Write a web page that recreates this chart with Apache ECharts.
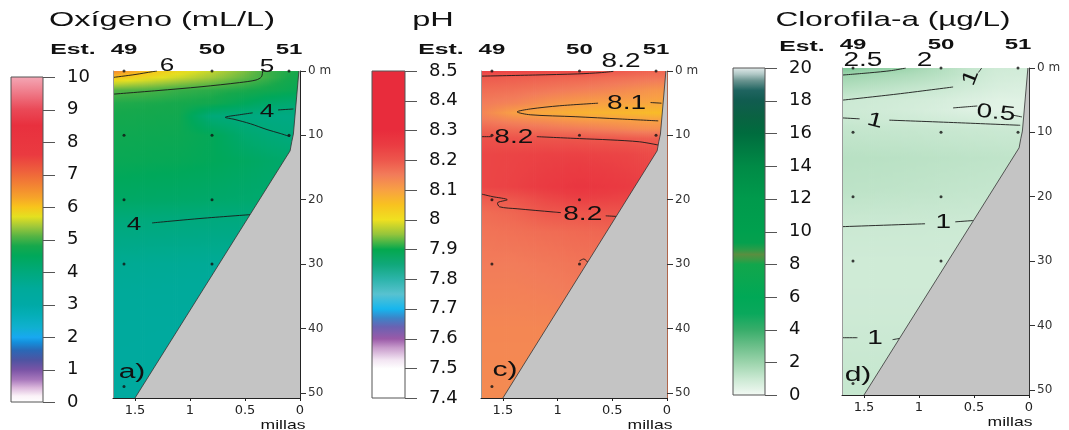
<!DOCTYPE html>
<html><head><meta charset="utf-8">
<script src="https://cdn.jsdelivr.net/npm/echarts@6/dist/echarts.min.js"></script>
<style>html,body{margin:0;padding:0;background:#fff}#c{width:1069px;height:430px}</style>
</head><body><div id="c"></div><script>
// ================= DATA =================
const DMAX = 50.8;
// field grid columns (miles offshore), shared by all panels
const colMiles = [1.7, 1.4, 1.1, 0.8, 0.5, 0.3, 0.1, 0];

// --- Oxígeno (mL/L)
const oxyDepths = [0, 1, 3, 5, 7, 10, 14, 20, 23, 30, 40, 50.8];
const oxyValues = [
  [6.6, 6.05, 5.8, 5.55, 5.25, 4.98, 4.85, 4.8],
  [6.0, 5.8, 5.6, 5.4, 5.15, 4.98, 4.8, 4.75],
  [5.1, 5.05, 4.95, 4.9, 4.82, 4.75, 4.65, 4.6],
  [4.85, 4.83, 4.8, 4.75, 4.5, 4.3, 4.2, 4.2],
  [4.78, 4.76, 4.73, 4.05, 3.95, 3.9, 3.88, 3.88],
  [4.7, 4.68, 4.66, 4.55, 4.2, 4.08, 4.0, 4.0],
  [4.62, 4.6, 4.58, 4.52, 4.42, 4.32, 4.25, 4.25],
  [4.35, 4.32, 4.3, 4.27, 4.22, 4.2, 4.2, 4.2],
  [4.04, 4.02, 4.0, 3.99, 3.97, 3.96, 3.96, 3.96],
  [3.62, 3.6, 3.58, 3.56, 3.55, 3.55, 3.55, 3.55],
  [3.38, 3.36, 3.35, 3.35, 3.35, 3.35, 3.35, 3.35],
  [3.3, 3.3, 3.3, 3.3, 3.3, 3.3, 3.3, 3.3]
];
const oxyTicks = [0, 1, 2, 3, 4, 5, 6, 7, 8, 9, 10];
const oxyContours = [
  [[1.7, 1.0], [1.5, 0.55], [1.34, 0.1], [1.3, 0]],
  [[1.7, 3.6], [1.3, 3.05], [0.9, 2.45], [0.55, 1.8], [0.4, 1.4], [0.35, 0.9], [0.34, 0]],
  [[0.2, 6.05], [0.06, 5.9]],
  [[0.43, 6.5], [0.55, 6.8], [0.68, 7.2], [0.6, 7.5], [0.45, 8.2], [0.3, 9.1], [0.18, 9.7], [0.09, 10.2]],
  [[1.345, 23.6], [0.9, 22.9], [0.44, 22.3]]
];
const oxyLabelText = ['6', '5', '4', '4'];
const oxyLabelPos = [[1.21, -0.8], [0.3, -0.6], [0.3, 6.4], [1.51, 23.9]];

// --- pH
const phDepths = [0, 1, 3, 5, 6.5, 7.5, 9, 10.5, 13, 18, 20, 22, 25, 30, 40, 50.8];
const phValues = [
  [8.24, 8.235, 8.23, 8.22, 8.2, 8.19, 8.18, 8.18],
  [8.195, 8.19, 8.185, 8.18, 8.17, 8.165, 8.16, 8.16],
  [8.17, 8.165, 8.155, 8.145, 8.135, 8.125, 8.115, 8.115],
  [8.15, 8.14, 8.12, 8.105, 8.098, 8.095, 8.09, 8.09],
  [8.14, 8.1, 8.085, 8.075, 8.07, 8.065, 8.06, 8.06],
  [8.15, 8.13, 8.12, 8.105, 8.1, 8.097, 8.094, 8.094],
  [8.18, 8.17, 8.16, 8.15, 8.14, 8.13, 8.125, 8.125],
  [8.21, 8.205, 8.203, 8.2, 8.197, 8.193, 8.19, 8.19],
  [8.23, 8.235, 8.24, 8.24, 8.235, 8.23, 8.22, 8.22],
  [8.23, 8.24, 8.255, 8.27, 8.26, 8.25, 8.24, 8.24],
  [8.19, 8.2, 8.225, 8.24, 8.235, 8.23, 8.22, 8.22],
  [8.17, 8.18, 8.198, 8.203, 8.205, 8.205, 8.2, 8.2],
  [8.16, 8.165, 8.17, 8.175, 8.18, 8.18, 8.18, 8.18],
  [8.15, 8.15, 8.155, 8.16, 8.16, 8.16, 8.16, 8.16],
  [8.135, 8.135, 8.135, 8.14, 8.14, 8.14, 8.14, 8.14],
  [8.13, 8.13, 8.13, 8.13, 8.13, 8.13, 8.13, 8.13]
];
const phTicks = [7.4, 7.5, 7.6, 7.7, 7.8, 7.9, 8.0, 8.1, 8.2, 8.3, 8.4, 8.5];
const phContours = [
  [[1.7, 0.8], [1.2, 0.62], [0.82, 0.45], [0.6, 0.25], [0.49, 0.05]],
  [[0.63, 5.0], [0.98, 5.4], [1.25, 5.9], [1.37, 6.35], [1.25, 6.8], [0.84, 7.1], [0.43, 7.45], [0.08, 7.75]],
  [[0.15, 4.9], [0.05, 5.0]],
  [[1.7, 10.2], [1.6, 10.2]],
  [[1.19, 10.2], [0.8, 10.5], [0.52, 10.7], [0.25, 11.0], [0.08, 11.5]],
  [[1.7, 19.1], [1.6, 19.5], [1.46, 20.0], [1.55, 20.5], [1.53, 21.1], [1.37, 21.4], [1.04, 21.9], [0.97, 22.0]],
  [[0.56, 22.5], [0.45, 22.6]],
  [[0.8, 29.5], [0.76, 29.2], [0.72, 29.8]]
];
const phLabelText = ['8.2', '8.1', '8.2', '8.2'];
const phLabelPos = [[0.42, -1.5], [0.37, 5.1], [1.4, 10.4], [0.77, 22.3]];

// --- Clorofila-a (µg/L)
const chlDepths = [0, 1, 3, 5, 6.5, 8, 9.5, 14, 19, 24, 30, 37, 42, 47, 50.8];
const chlValues = [
  [2.7, 2.3, 1.95, 1.5, 1.1, 0.9, 0.85, 0.85],
  [2.0, 1.8, 1.65, 1.4, 1.05, 0.85, 0.8, 0.8],
  [1.5, 1.35, 1.2, 1.05, 0.85, 0.7, 0.65, 0.65],
  [1.0, 0.92, 0.85, 0.75, 0.6, 0.5, 0.5, 0.5],
  [0.95, 0.88, 0.8, 0.68, 0.52, 0.45, 0.45, 0.45],
  [1.03, 0.97, 0.92, 0.85, 0.78, 0.72, 0.7, 0.7],
  [1.15, 1.12, 1.1, 1.06, 1.03, 1.01, 1.0, 1.0],
  [1.4, 1.38, 1.35, 1.32, 1.28, 1.25, 1.22, 1.22],
  [1.3, 1.27, 1.24, 1.2, 1.16, 1.13, 1.1, 1.1],
  [1.02, 1.01, 1.0, 0.99, 0.98, 0.97, 0.97, 0.97],
  [0.9, 0.9, 0.9, 0.9, 0.9, 0.9, 0.9, 0.9],
  [0.92, 0.92, 0.92, 0.92, 0.92, 0.92, 0.92, 0.92],
  [1.0, 1.0, 0.995, 0.99, 0.99, 0.99, 0.99, 0.99],
  [1.08, 1.07, 1.06, 1.05, 1.05, 1.05, 1.05, 1.05],
  [1.12, 1.1, 1.08, 1.08, 1.08, 1.08, 1.08, 1.08]
];
const chlTicks = [0, 2, 4, 6, 8, 10, 12, 14, 16, 18, 20];
const chlContours = [
  [[1.7, 1.1], [1.45, 0.75], [1.25, 0.4], [1.12, 0]],
  [[1.7, 5.0], [1.2, 4.05], [0.69, 2.95]],
  [[0.46, 0.7], [0.43, 0]],
  [[0.69, 6.2], [0.47, 5.9]],
  [[0.155, 7.3], [0.064, 7.6]],
  [[1.7, 7.75], [1.54, 7.9]],
  [[1.27, 8.1], [0.65, 8.5], [0.08, 8.9]],
  [[1.7, 24.65], [0.945, 24.2]],
  [[0.67, 23.9], [0.51, 23.7]],
  [[1.7, 41.9], [1.56, 41.9]],
  [[1.24, 42.2], [1.17, 42.0]]
];
const chlLabelText = ['2.5', '2', '1', '0.5', '1', '1', '1'];
const chlLabelPos = [[1.51, -1.2], [0.95, -1.2], [0.53, 1.5], [0.3, 7.0], [1.4, 8.2], [0.78, 24.0], [1.4, 42.0]];
const chlLabelRot = [0, 0, 1.2, -0.1, -0.25, 0, 0];

// --- stations, samples, bathymetry, axis ticks
const stationMiles = [1.6, 0.8, 0.1];
const stationNames = ['49', '50', '51'];
const sampleMiles = [1.6, 0.8, 0.1, 1.6, 0.8, 0.1, 1.6, 0.8, 1.6, 0.8, 1.6];
const sampleDepths = [0, 0, 0, 10, 10, 10, 20, 20, 30, 30, 49];
const bathyMiles = [1.5, 0.09, 0.075, 0.06, 0.01];
const bathyDepths = [50.8, 12.4, 11.0, 9.8, 0];
const xTickValues = [0, 0.5, 1, 1.5];
const yTickValues = [0, 10, 20, 30, 40, 50];

// --- colour palettes (style)
const oxyPalette = [[0,'#ffffff'],[0.2,'#fbf2f8'],[0.45,'#dcb8dc'],[0.7,'#a878bc'],[1.0,'#7a54a6'],[1.3,'#4e54a2'],[1.6,'#2a68b6'],[1.85,'#1490dc'],[2.0,'#18a8f0'],[2.3,'#10b0d0'],[2.7,'#04aeb6'],[3.0,'#00aaa6'],[3.5,'#00aa9a'],[4.0,'#00a97c'],[4.5,'#00a85a'],[4.8,'#16a84c'],[5.1,'#56b444'],[5.4,'#a0c83a'],[5.7,'#e4e020'],[6.0,'#f8c41c'],[6.3,'#f6a22a'],[6.7,'#f28034'],[7.1,'#ee603c'],[7.6,'#ea3a40'],[8.5,'#e8303e'],[9.0,'#ea4a58'],[9.5,'#ef7a88'],[10,'#f4a8b6']];
const phPalette = [[7.4,'#ffffff'],[7.5,'#ffffff'],[7.53,'#f2e4f2'],[7.57,'#c89ccc'],[7.6,'#9a5aa8'],[7.64,'#6a62b2'],[7.67,'#3c84c8'],[7.7,'#16b6ee'],[7.75,'#58c2d0'],[7.8,'#2cb4aa'],[7.85,'#10a87a'],[7.9,'#04a84e'],[7.95,'#94c43c'],[8.0,'#f0e020'],[8.05,'#f8c220'],[8.1,'#f8a044'],[8.15,'#f27c5a'],[8.2,'#ed564c'],[8.25,'#ea3c42'],[8.3,'#e82c3c'],[8.5,'#e82c3c']];
const chlPalette = [[0,'#f4faf5'],[1,'#cbe9d3'],[2,'#9cd4ac'],[3,'#6cbf8a'],[4,'#38ad6a'],[5,'#0aa85c'],[6,'#00a856'],[8,'#12a64c'],[8.3,'#3a9a44'],[8.6,'#5a8e40'],[8.9,'#2a9c48'],[9.3,'#05a04e'],[10,'#00a04e'],[12,'#009a4c'],[14,'#008a46'],[16,'#006c3e'],[17,'#0a6242'],[18,'#115c50'],[18.6,'#1f6460'],[19.2,'#6a9490'],[19.6,'#b0c8c6'],[20,'#e4ecec']];

// ================= HELPERS =================
const FONT = "'Liberation Sans', Arial, sans-serif";
const TFONT = "'DejaVu Sans', sans-serif";
function hexRgb(h){ return [parseInt(h.slice(1,3),16), parseInt(h.slice(3,5),16), parseInt(h.slice(5,7),16)]; }
function makeScale(pal){
  const s = pal.map(p => [p[0], hexRgb(p[1])]);
  return function(v){
    if (v <= s[0][0]) return 'rgb(' + s[0][1].join(',') + ')';
    for (let i = 0; i < s.length - 1; i++) {
      if (v <= s[i+1][0]) {
        const t = (v - s[i][0]) / (s[i+1][0] - s[i][0]);
        const c = s[i][1].map((a, k) => Math.round(a + (s[i+1][1][k] - a) * t));
        return 'rgb(' + c.join(',') + ')';
      }
    }
    return 'rgb(' + s[s.length-1][1].join(',') + ')';
  };
}
function sampleField(depths, values, m, d){
  let i = 0; while (i < colMiles.length - 2 && m < colMiles[i+1]) i++;
  let tx = (colMiles[i] - m) / (colMiles[i] - colMiles[i+1]); tx = Math.max(0, Math.min(1, tx));
  let j = 0; while (j < depths.length - 2 && d > depths[j+1]) j++;
  let ty = (d - depths[j]) / (depths[j+1] - depths[j]); ty = Math.max(0, Math.min(1, ty));
  const a = values[j][i] * (1 - tx) + values[j][i+1] * tx;
  const b = values[j+1][i] * (1 - tx) + values[j+1][i+1] * tx;
  return a * (1 - ty) + b * ty;
}
function fieldSeries(idx, depths, values, pal){
  const scale = makeScale(pal);
  return {
    type: 'custom', xAxisIndex: idx, yAxisIndex: idx, clip: true, silent: true, z: 1,
    data: colMiles.slice(0, -1).map((m, i) => [m, colMiles[i+1]]),
    renderItem(params, api){
      const mA = api.value(0), mB = api.value(1);
      const pA = api.coord([mA, 0]), pB = api.coord([mB, DMAX]);
      const x0 = Math.min(pA[0], pB[0]), x1 = Math.max(pA[0], pB[0]);
      const n = Math.max(1, Math.ceil((x1 - x0) / 2));
      const children = [];
      for (let k = 0; k < n; k++) {
        const xs = x0 + (x1 - x0) * k / n, xe = x0 + (x1 - x0) * (k + 1) / n;
        const mid = mA + (mB - mA) * (((xs + xe) / 2) - pA[0]) / (pB[0] - pA[0]);
        const stops = [];
        for (let d = 0; d <= DMAX + 1e-6; d += 0.5) stops.push({offset: Math.min(1, d / DMAX), color: scale(sampleField(depths, values, mid, d))});
        children.push({type: 'rect', shape: {x: xs, y: pA[1], width: xe - xs + 0.8, height: pB[1] - pA[1]},
          style: {fill: new echarts.graphic.LinearGradient(0, 0, 0, 1, stops)}});
      }
      return {type: 'group', children};
    }
  };
}
function colorbarSeries(idx, ticks, pal){
  const lo = ticks[0], hi = ticks[ticks.length - 1];
  const stops = pal.map(p => ({offset: (hi - p[0]) / (hi - lo), color: p[1]})).reverse();
  return {
    type: 'custom', xAxisIndex: idx, yAxisIndex: idx, silent: true, z: 2, clip: false,
    data: [[lo, hi]],
    renderItem(params, api){
      const t = api.coord([0, api.value(1)]), b = api.coord([1, api.value(0)]);
      const children = [{type: 'rect', shape: {x: t[0], y: t[1], width: b[0] - t[0], height: b[1] - t[1]},
        style: {fill: new echarts.graphic.LinearGradient(0, 0, 0, 1, stops), stroke: '#555', lineWidth: 1}}];
      ticks.forEach(v => {
        const p = api.coord([1, v]);
        const y = Math.round(p[1]) + 0.5;
        children.push({type: 'line', shape: {x1: p[0], y1: y, x2: p[0] + 12, y2: y}, style: {stroke: '#555', lineWidth: 1}});
      });
      return {type: 'group', children};
    }
  };
}
function bathySeries(idx){
  return {
    type: 'custom', xAxisIndex: idx, yAxisIndex: idx, clip: true, silent: true, z: 4,
    data: [[0, 0]],
    renderItem(params, api){
      const slope = bathyMiles.map((m, i) => api.coord([m, bathyDepths[i]]));
      const poly = slope.concat([api.coord([0, 0]), api.coord([0, DMAX])]);
      return {type: 'group', children: [
        {type: 'polygon', shape: {points: poly}, style: {fill: '#c4c4c4'}},
        {type: 'polyline', shape: {points: slope}, style: {stroke: '#333', lineWidth: 0.8, fill: null}}
      ]};
    }
  };
}
function contourSeries(idx, lines){
  return lines.map(l => ({type: 'line', xAxisIndex: idx, yAxisIndex: idx, data: l, symbol: 'none', smooth: 0.3,
    silent: true, z: 3, lineStyle: {color: '#1a1a1a', width: 0.9}}));
}
function textSeries(idx, pos, texts, o){
  return {
    type: 'custom', xAxisIndex: idx, yAxisIndex: idx, clip: false, silent: true, z: 6,
    data: pos,
    renderItem(params, api){
      const p = api.coord([api.value(0), api.value(1)]);
      const r = o.rot ? o.rot[params.dataIndex] : 0;
      return {type: 'text', x: p[0], y: p[1] + (o.dy || 0), rotation: r, scaleX: o.sx || 1,
        style: {text: texts[params.dataIndex], fontSize: o.size, fontFamily: FONT, fontWeight: o.weight || 'normal',
          fill: '#111', align: 'center', textAlign: 'center', verticalAlign: 'middle', textVerticalAlign: 'middle'}};
    }
  };
}
function dotSeries(idx){
  return {type: 'scatter', xAxisIndex: idx, yAxisIndex: idx, symbolSize: 3, silent: true, z: 5,
    itemStyle: {color: '#111'}, data: sampleMiles.map((m, i) => [m, sampleDepths[i]])};
}
function gtext(x, y, text, size, sx, weight){
  return {type: 'text', x, y, scaleX: sx, z: 20,
    style: {text, fontSize: size, fontFamily: FONT, fontWeight: weight || 'normal', fill: '#111',
      align: 'center', textAlign: 'center', verticalAlign: 'middle', textVerticalAlign: 'middle'}};
}

// ================= OPTION =================
const plotGrids = [
  {left: 113, top: 71, width: 187, height: 327},
  {left: 481, top: 71, width: 186, height: 327},
  {left: 842, top: 68, width: 187, height: 327}
];
const cbGrids = [
  {left: 11, top: 77, width: 32, height: 325},
  {left: 372, top: 71, width: 33, height: 327},
  {left: 733, top: 68, width: 32, height: 327}
];
const cbTicks = [oxyTicks, phTicks, chlTicks];
const cbInterval = [1, 0.1, 2];
const rightAxisColor = ['#222', '#b0654a', '#333'];

const xAxes = [], yAxes = [];
for (let i = 0; i < 3; i++) {
  xAxes.push({gridIndex: i, type: 'value', min: 0, max: 1.7, interval: 0.5, inverse: true, z: 10,
    axisLine: {show: true, onZero: false, lineStyle: {color: '#222', width: 1}},
    axisTick: {show: true, length: 3, customValues: xTickValues, lineStyle: {color: '#222'}},
    axisLabel: {customValues: xTickValues, fontSize: 13, fontFamily: TFONT, color: '#222', margin: 6},
    splitLine: {show: false}});
}
for (let i = 0; i < 3; i++) {
  xAxes.push({gridIndex: 3 + i, type: 'value', min: 0, max: 1, show: false});
}
for (let i = 0; i < 3; i++) {
  yAxes.push({gridIndex: i, type: 'value', min: 0, max: DMAX, interval: 10, inverse: true, position: 'right', z: 10,
    axisLine: {show: true, onZero: false, lineStyle: {color: rightAxisColor[i], width: 1}},
    axisTick: {show: true, length: 6, customValues: yTickValues, lineStyle: {color: '#333'}},
    axisLabel: {customValues: yTickValues, formatter: v => v === 0 ? '0 m' : String(v), fontSize: 12, fontFamily: TFONT, color: '#333', margin: 8},
    splitLine: {show: false}});
}
for (let i = 0; i < 3; i++) {
  const t = cbTicks[i];
  yAxes.push({gridIndex: 3 + i, type: 'value', min: t[0], max: t[t.length - 1], interval: cbInterval[i], position: 'right', z: 10,
    axisLine: {show: false},
    axisTick: {show: false},
    axisLabel: {customValues: t, formatter: v => String(Math.round(v * 10) / 10), fontSize: 18, fontFamily: TFONT, color: '#111', margin: 24},
    splitLine: {show: false}});
}
for (let i = 0; i < 3; i++) {
  yAxes.push({gridIndex: i, type: 'value', min: 0, max: DMAX, inverse: true, position: 'left', z: 10,
    axisLine: {show: true, onZero: false, lineStyle: {color: '#9a9a9a'}},
    axisTick: {show: false}, axisLabel: {show: false}, splitLine: {show: false}});
}

const series = [];
const fields = [[oxyDepths, oxyValues, oxyPalette], [phDepths, phValues, phPalette], [chlDepths, chlValues, chlPalette]];
const contours = [oxyContours, phContours, chlContours];
const palettes = [oxyPalette, phPalette, chlPalette];
for (let i = 0; i < 3; i++) {
  series.push(fieldSeries(i, fields[i][0], fields[i][1], fields[i][2]));
  series.push(...contourSeries(i, contours[i]));
  series.push(bathySeries(i));
  series.push(dotSeries(i));
  series.push(textSeries(i, stationMiles.map(m => [m, 0]), stationNames, {size: 15, sx: 1.6, weight: 'bold', dy: i === 2 ? -23 : -21}));
  series.push(colorbarSeries(3 + i, cbTicks[i], palettes[i]));
}
series.push(textSeries(0, oxyLabelPos, oxyLabelText, {size: 18, sx: 1.45}));
series.push(textSeries(1, phLabelPos, phLabelText, {size: 20, sx: 1.4}));
series.push(textSeries(2, chlLabelPos, chlLabelText, {size: 20, sx: 1.4, rot: chlLabelRot}));

const option = {
  animation: false,
  backgroundColor: '#ffffff',
  grid: plotGrids.concat(cbGrids).map(g => Object.assign({}, g, {containLabel: false, outerBoundsMode: 'none'})),
  xAxis: xAxes,
  yAxis: yAxes,
  series,
  graphic: [
    gtext(162, 20, 'Oxígeno (mL/L)', 21, 1.55),
    gtext(433, 20, 'pH', 21, 1.55),
    gtext(893, 20, 'Clorofila-a (µg/L)', 21, 1.5),
    gtext(73, 50, 'Est.', 15, 1.65, 'bold'),
    gtext(441, 50, 'Est.', 15, 1.65, 'bold'),
    gtext(802, 47, 'Est.', 15, 1.65, 'bold'),
    gtext(283, 425, 'millas', 13, 1.35),
    gtext(650, 425, 'millas', 13, 1.35),
    gtext(1010, 422, 'millas', 13, 1.35),
    gtext(132, 372, 'a)', 20, 1.5),
    gtext(505, 370, 'c)', 20, 1.5),
    gtext(858, 375, 'd)', 20, 1.5)
  ]
};
const chart = echarts.init(document.getElementById('c'), null, {renderer: 'canvas'});
chart.setOption(option);
</script></body></html>
